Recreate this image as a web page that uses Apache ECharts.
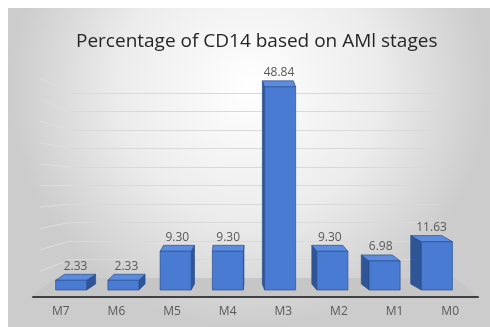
<!DOCTYPE html>
<html>
<head>
<meta charset="utf-8">
<script src="https://cdn.jsdelivr.net/npm/echarts@6/dist/echarts.min.js"></script>
<style>
  html, body { margin: 0; padding: 0; background: #fff; }
  #main { width: 490px; height: 327px; }
</style>
</head>
<body>
<div id="main"></div>
<script>
// data
var stages = ['M7', 'M6', 'M5', 'M4', 'M3', 'M2', 'M1', 'M0'];
var cd14 = [2.33, 2.33, 9.30, 9.30, 48.84, 9.30, 6.98, 11.63];
var valueMax = 50;
var valueStep = 5;

var chart = echarts.init(document.getElementById('main'));

// fake 3d box: front face + top face + one side face
function renderBox(params, api) {
    var i = params.dataIndex;
    var v = api.value(1);
    var top = api.coord([api.value(0), v]);
    var base = api.coord([api.value(0), 0]);
    var w = 31;
    var x0 = top[0] - w / 2, x1 = top[0] + w / 2;
    var yT = top[1], yB = base[1];
    var dx = (3.2 - i) * 2.8, dy = -6;
    var sx = dx > 0 ? x1 : x0;
    var edge = { stroke: '#2a4f91', lineWidth: 0.7 };
    return {
        type: 'group',
        children: [
            { type: 'polygon', shape: { points: [[sx, yT], [sx + dx, yT + dy], [sx + dx, yB + dy], [sx, yB]] },
              style: Object.assign({ fill: '#2f5597' }, edge) },
            { type: 'polygon', shape: { points: [[x0, yT], [x1, yT], [x1 + dx, yT + dy], [x0 + dx, yT + dy]] },
              style: Object.assign({ fill: '#5b8ce0' }, edge) },
            { type: 'rect', shape: { x: x0, y: yT, width: w, height: yB - yT },
              style: Object.assign({ fill: '#4a7bd2' }, edge) },
            { type: 'text', x: (x0 + x1) / 2 + dx / 2, y: yT + dy - 2,
              style: { text: v.toFixed(2), fill: '#595959', fontSize: 12, fontFamily: 'Open Sans',
                       align: 'center', verticalAlign: 'bottom' } }
        ]
    };
}

var option = {
    animation: false,
    title: {
        text: 'Percentage of CD14 based on AMl stages',
        left: 71,
        top: 27,
        textStyle: { fontFamily: 'Open Sans', fontSize: 19, fontWeight: 'normal', color: '#262626' }
    },
    graphic: [
        { type: 'rect', z: -10, shape: { x: 8, y: 8, width: 482, height: 319 },
          style: { fill: new echarts.graphic.RadialGradient(0.5, 0.25, 0.75, [
              { offset: 0, color: '#ffffff' },
              { offset: 0.55, color: '#ececec' },
              { offset: 1, color: '#cccccc' }
          ]) } },
        { type: 'polygon', z: 1, shape: { points: [[30, 297], [478, 297], [455, 278], [56, 278]] },
          style: { fill: '#c6c6c6' } }
    ],
    grid: [
        // back wall (grid lines)
        { left: 70, right: 53, top: 93, bottom: 49 },
        // boxes
        { left: 45, right: 27, top: 82, bottom: 37 },
        // category labels + front edge of floor
        { left: 33, right: 12, top: 82, bottom: 30 }
    ],
    xAxis: [
        { gridIndex: 0, type: 'category', data: stages, show: false },
        { gridIndex: 1, type: 'category', data: stages, show: false },
        { gridIndex: 2, type: 'category', data: stages, z: 3,
          axisLine: { lineStyle: { color: '#404040', width: 2 } },
          axisTick: { show: false },
          axisLabel: { color: '#595959', fontSize: 12, fontFamily: 'Open Sans', margin: 9 } }
    ],
    yAxis: [
        { gridIndex: 0, type: 'value', min: 0, max: valueMax, interval: valueStep,
          axisLine: { show: false }, axisTick: { show: false }, axisLabel: { show: false },
          splitLine: { lineStyle: { color: '#d9d9d9', width: 1 } } },
        { gridIndex: 1, type: 'value', min: 0, max: valueMax, show: false, splitLine: { show: false } },
        { gridIndex: 2, type: 'value', min: 0, max: valueMax, show: false, splitLine: { show: false } }
    ],
    series: [{
        type: 'custom',
        xAxisIndex: 1,
        yAxisIndex: 1,
        z: 5,
        renderItem: renderBox,
        data: stages.map(function (s, i) { return [i, cd14[i]]; })
    }]
};
chart.setOption(option);

// side wall lines, following the grid lines to the left
var sideLines = [];
for (var v = valueStep; v <= valueMax; v += valueStep) {
    var y = chart.convertToPixel({ yAxisIndex: 0 }, v);
    sideLines.push({ type: 'line', z: 0,
        shape: { x1: 70, y1: y, x2: 40, y2: y + 0.16 * (y - 185) },
        style: { stroke: '#dedede', lineWidth: 1 } });
}
chart.setOption({ graphic: option.graphic.concat(sideLines) });
</script>
</body>
</html>
